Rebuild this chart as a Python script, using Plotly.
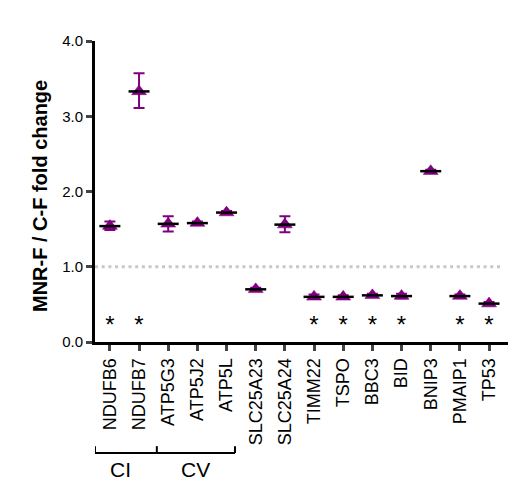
import plotly.graph_objects as go

genes = ["NDUFB6", "NDUFB7", "ATP5G3", "ATP5J2", "ATP5L", "SLC25A23", "SLC25A24",
         "TIMM22", "TSPO", "BBC3", "BID", "BNIP3", "PMAIP1", "TP53"]
means = [1.54, 3.33, 1.57, 1.58, 1.72, 0.70, 1.56, 0.60, 0.60, 0.62, 0.61, 2.27, 0.61, 0.51]
err_up = [0.06, 0.24, 0.10, 0.02, 0.02, 0.02, 0.11, 0.03, 0.02, 0.02, 0.03, 0.02, 0.02, 0.02]
err_down = [0.05, 0.22, 0.10, 0.02, 0.02, 0.02, 0.10, 0.03, 0.02, 0.02, 0.03, 0.02, 0.02, 0.02]
significant = [True, True, False, False, False, False, False, True, True, True, True, False, True, True]
star_level = 0.2
reference_level = 1.0
y_ticks = [0.0, 1.0, 2.0, 3.0, 4.0]
groups = [("CI", -0.51, 1.61), ("CV", 1.61, 4.29)]

purple = "#800080"
font_family = "Liberation Sans, Arial, sans-serif"
xs = list(range(len(genes)))

fig = go.Figure()

fig.add_trace(go.Scatter(
    x=xs, y=means, mode="markers",
    marker=dict(symbol="triangle-up", size=13, color=purple,
                line=dict(color=purple, width=0.5)),
    error_y=dict(type="data", array=err_up, arrayminus=err_down, symmetric=False,
                 color=purple, thickness=2, width=5.5),
    showlegend=False, hoverinfo="skip",
))
fig.add_trace(go.Scatter(
    x=xs, y=means, mode="markers",
    marker=dict(symbol="line-ew", size=15, line=dict(color="black", width=2.5)),
    showlegend=False,
))
star_x = [x for x, s in zip(xs, significant) if s]
fig.add_trace(go.Scatter(
    x=star_x, y=[star_level] * len(star_x), mode="text", text=["*"] * len(star_x),
    textposition="middle center",
    textfont=dict(size=24, color="black", family=font_family),
    showlegend=False, hoverinfo="skip",
))

fig.add_shape(type="line", xref="x", yref="y", x0=-0.51, x1=13.5,
              y0=reference_level, y1=reference_level,
              line=dict(color="#c8c8c8", width=3, dash="3px,3.7px"), layer="below")

# group brackets
yb, yt = -0.369, -0.346
for name, a, b in groups:
    fig.add_shape(type="line", xref="x", yref="paper", x0=a, x1=b, y0=yb, y1=yb,
                  line=dict(color="black", width=2))
    fig.add_annotation(x=(a + b) / 2 - (0.2 if name == "CI" else 0), y=-0.425, xref="x", yref="paper",
                       text=name, showarrow=False,
                       font=dict(size=21, color="black", family=font_family),
                       xanchor="center", yanchor="middle")
for xv in [groups[0][1], groups[0][2], groups[1][2]]:
    fig.add_shape(type="line", xref="x", yref="paper", x0=xv, x1=xv, y0=yb, y1=yt,
                  line=dict(color="black", width=2))

# y-axis title
fig.add_annotation(xref="paper", yref="paper", x=0, y=0.485, xshift=-55,
                   text="<b>MNR-F / C-F fold change</b>", textangle=-90, showarrow=False,
                   font=dict(size=20, color="black", family=font_family),
                   xanchor="center", yanchor="middle")

fig.update_layout(
    width=520, height=493,
    margin=dict(l=95, r=12, t=41, b=151),
    paper_bgcolor="white", plot_bgcolor="white",
    font=dict(family=font_family, color="black"),
    xaxis=dict(
        range=[-0.51, 13.65], tickmode="array", tickvals=xs, ticktext=genes,
        tickangle=-90, tickfont=dict(size=18), ticks="outside", ticklen=6,
        tickwidth=2.5, showline=True, linewidth=3, linecolor="black",
        showgrid=False, zeroline=False,
    ),
    yaxis=dict(
        range=[0, 4], tickmode="array", tickvals=y_ticks,
        ticktext=[f"{v:.1f}" for v in y_ticks],
        tickfont=dict(size=15), ticks="outside", ticklen=6, tickwidth=2.5,
        showline=True, linewidth=3, linecolor="black",
        showgrid=False, zeroline=False,
    ),
)

fig.write_html("out.html")
